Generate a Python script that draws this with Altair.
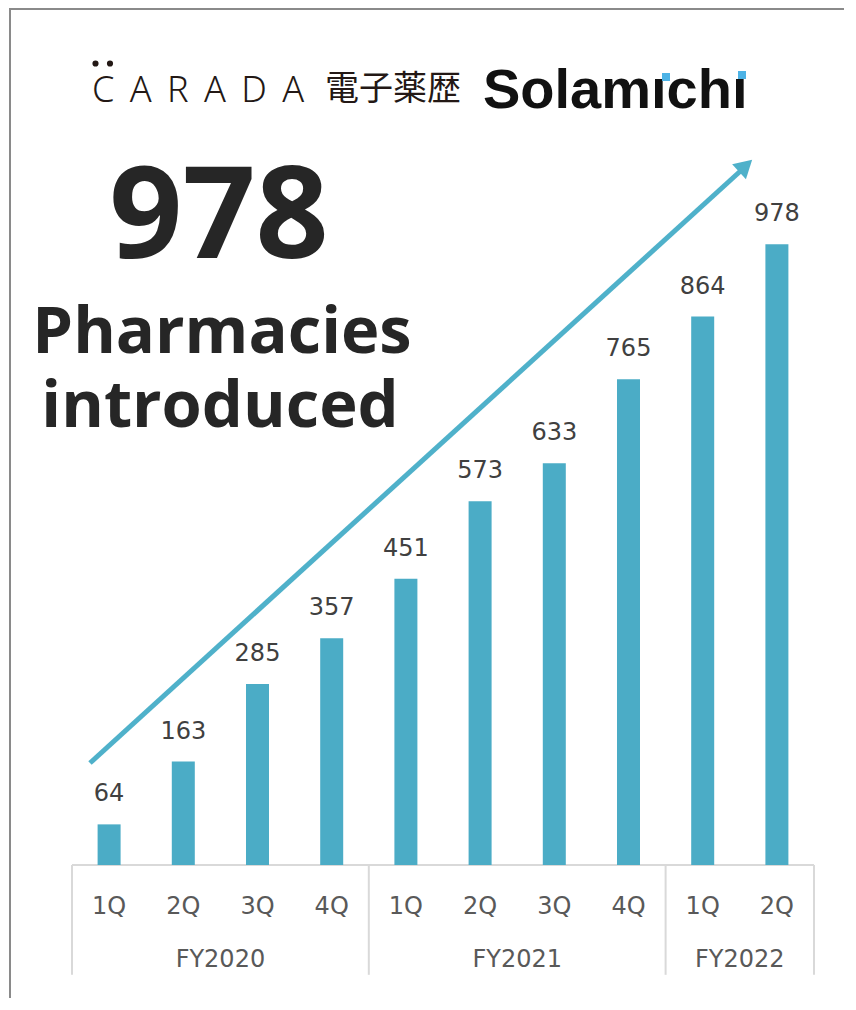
import altair as alt
import pandas as pd

# ---- data ----
fiscal_years = ["FY2020", "FY2020", "FY2020", "FY2020",
                "FY2021", "FY2021", "FY2021", "FY2021",
                "FY2022", "FY2022"]
quarters = ["1Q", "2Q", "3Q", "4Q", "1Q", "2Q", "3Q", "4Q", "1Q", "2Q"]
pharmacies = [64, 163, 285, 357, 451, 573, 633, 765, 864, 978]

group_starts = ["FY2020 1Q", "FY2021 1Q", "FY2022 1Q"]
group_last = ["FY2022 2Q"]
group_label_anchor = ["FY2020 2Q", "FY2021 2Q", "FY2022 1Q"]
group_names = ["FY2020", "FY2021", "FY2022"]

cats = [f"{fy} {q}" for fy, q in zip(fiscal_years, quarters)]
df = pd.DataFrame({"cat": cats, "fy": fiscal_years, "q": quarters, "n": pharmacies})

BAR = "#4BACC6"
ARROW = "#4FB1CA"
AXIS = "#D9D9D9"
TXT = "#262626"

xscale = alt.Scale(domain=cats, paddingInner=0, paddingOuter=0)
yscale = alt.Scale(domain=[0, 1350], nice=False, zero=False)
X = lambda **kw: alt.X("cat:N", sort=cats, axis=None, scale=xscale, **kw)


def Ydat(v):
    return alt.Y(datum=v, scale=yscale, axis=None)


bars = alt.Chart(df).mark_bar(color=BAR, width=alt.RelativeBandSize(0.31)).encode(
    x=X(), y=alt.Y("n:Q", scale=yscale, axis=None)
)
values = alt.Chart(df).mark_text(
    font="DejaVu Sans", fontSize=24, color="#404040", baseline="alphabetic", dy=-23
).encode(x=X(), y=alt.Y("n:Q", scale=yscale, axis=None), text="n:Q")

qlabels = alt.Chart(df).mark_text(
    font="DejaVu Sans", fontSize=24, color="#595959", baseline="middle", dy=42
).encode(x=X(), y=Ydat(0), text="q:N")

glabels = alt.Chart(pd.DataFrame({"cat": group_label_anchor, "g": group_names})).mark_text(
    font="DejaVu Sans", fontSize=24, color="#595959", baseline="middle", dy=95
).encode(x=X(bandPosition=1), y=Ydat(0), text="g:N")

axis_line = alt.Chart(pd.DataFrame({"a": [0]})).mark_rule(color=AXIS, strokeWidth=2).encode(
    x=alt.value(0), x2=alt.value(742), y=Ydat(0)
)
sep1 = alt.Chart(pd.DataFrame({"cat": group_starts})).mark_rule(color=AXIS, strokeWidth=2).encode(
    x=X(bandPosition=0), y=Ydat(0), y2=alt.datum(-173)
)
sep2 = alt.Chart(pd.DataFrame({"cat": group_last})).mark_rule(color=AXIS, strokeWidth=2).encode(
    x=X(bandPosition=1), y=Ydat(0), y2=alt.datum(-173)
)

# ---- frame ----
one = pd.DataFrame({"a": [0]})
border_top = alt.Chart(one).mark_rule(color="#8A8A8A", strokeWidth=2).encode(
    x=alt.value(-63), x2=alt.value(800), y=alt.value(1)
)
border_left = alt.Chart(one).mark_rule(color="#8A8A8A", strokeWidth=2).encode(
    x=alt.value(-62), y=alt.value(0), y2=alt.value(1000)
)

# ---- arrow ----
arrow_line = alt.Chart(one).mark_rule(color=ARROW, strokeWidth=5, strokeCap="butt").encode(
    x=alt.value(18), y=alt.value(755), x2=alt.value(674), y2=alt.value(158)
)
arrow_head = alt.Chart(one).mark_point(
    shape="triangle-up", size=420, filled=True, color=ARROW, opacity=1, angle=47.7
).encode(x=alt.value(673.6), y=alt.value(157.8))


def label(text, x, y, **kw):
    return alt.Chart(pd.DataFrame({"t": [text]})).mark_text(**kw).encode(
        text="t:N", x=alt.value(x), y=alt.value(y)
    )


carada = label("C \u2006A \u2006R \u2006A \u2006D \u2006A", 20, 94, font="Noto Sans", fontWeight=300,
               fontSize=36, color="#231815", align="left", baseline="alphabetic")
cdot1 = alt.Chart(one).mark_circle(size=38, color="#231815", opacity=1).encode(x=alt.value(23.5), y=alt.value(55.5))
cdot2 = alt.Chart(one).mark_circle(size=38, color="#231815", opacity=1).encode(x=alt.value(38), y=alt.value(55.5))
denshi = label("電子薬歴", 253, 92, font="Noto Sans CJK JP", fontSize=34, color="#231815",
               align="left", baseline="alphabetic")
sola = label("Solam\u0131ch\u0131", 411, 100, font="Liberation Sans", fontWeight="bold",
             fontSize=56, color="#111111", align="left", baseline="alphabetic")
dot1 = alt.Chart(one).mark_square(size=64, color="#4DB3E6", opacity=1).encode(x=alt.value(594), y=alt.value(69))
dot2 = alt.Chart(one).mark_square(size=64, color="#4DB3E6", opacity=1).encode(x=alt.value(670), y=alt.value(67))

big = label("978", 147, 250, font="Open Sans", fontWeight="bold", fontSize=128, color=TXT,
            align="center", baseline="alphabetic")
ph = label("Pharmacies", 150, 345, font="Open Sans", fontWeight="bold", fontSize=65, color=TXT,
           align="center", baseline="alphabetic")
intro = label("introduced", 148, 419, font="Open Sans", fontWeight="bold", fontSize=65, color=TXT,
              align="center", baseline="alphabetic")

chart = alt.layer(
    border_top, border_left, axis_line, sep1, sep2, bars, values, qlabels, glabels,
    arrow_line, arrow_head, carada, cdot1, cdot2, denshi, sola, dot1, dot2, big, ph, intro
).properties(
    width=742, height=857,
    autosize=alt.AutoSizeParams(type="none"),
    padding={"left": 64, "top": 0, "right": 30, "bottom": 133},
    background="white",
).configure_view(stroke=None)

chart.save("out.html", embed_options={"renderer": "svg", "actions": False})
